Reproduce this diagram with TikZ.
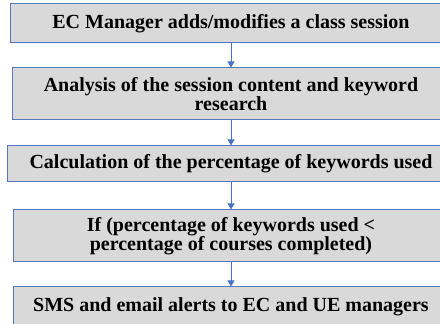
\documentclass[tikz,border=0pt]{standalone}
\usepackage{fontspec}
\setmainfont{Liberation Serif}
\usetikzlibrary{arrows.meta}
\definecolor{stepfill}{RGB}{217,217,217}
\definecolor{stepline}{RGB}{84,118,190}
\definecolor{flowarrow}{RGB}{68,114,196}
\begin{document}
\begin{tikzpicture}[x=1pt, y=1pt,
    stepbox/.style={
      draw=stepline, fill=stepfill, line width=1pt,
      align=center, inner sep=0pt,
      font=\fontsize{20}{18}\selectfont\bfseries,
    },
    flow/.style={
      draw=flowarrow, line width=0.8pt,
      -{Triangle[width=7pt, length=6pt]},
    },
  ]
    \useasboundingbox (0,0) rectangle (440,324) ;
    \clip (0,0) rectangle (440,324) ;

    \node [stepbox, minimum width=442, minimum height=39]
          (add) at (231,300.5) {EC Manager adds/modifies a class session} ;
    \node [stepbox, minimum width=438, minimum height=52]
          (analysis) at (231,230) {Analysis of the session content and keyword\\research} ;
    \node [stepbox, minimum width=448, minimum height=36]
          (calc) at (231,160) {Calculation of the percentage of keywords used} ;
    \node [stepbox, minimum width=436, minimum height=52]
          (test) at (231,88) {If (percentage of keywords used <\\percentage of courses completed)} ;
    \node [stepbox, minimum width=436, minimum height=40]
          (alert) at (231,17) {SMS and email alerts to EC and UE managers} ;

    \draw [flow] (add) -- (analysis) ;
    \draw [flow] (analysis) -- (calc) ;
    \draw [flow] (calc) -- (test) ;
    \draw [flow] (test) -- (alert) ;
  \end{tikzpicture}
\end{document}
